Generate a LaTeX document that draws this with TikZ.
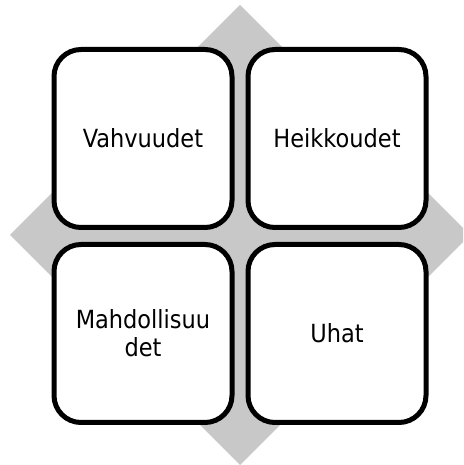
\documentclass[tikz,border=0pt]{standalone}
\usepackage{fontspec}
\setmainfont{DejaVu Sans Condensed}
\usetikzlibrary{positioning}
\definecolor{swotgray}{RGB}{200,200,200}
\tikzset{
  swotbox/.style = {draw, fill=white, line width=5pt, rounded corners=27pt,
    minimum width=178pt, minimum height=178pt, align=center,
    font=\fontsize{25}{28}\selectfont},
}

\begin{document}
\begin{tikzpicture}[x=1pt,y=1pt,node distance=12pt and 11pt]
  \clip (0,0) rectangle (463,465);
  \fill[swotgray] (240,460) -- (10,230) -- (240,0) -- (470,230) -- cycle;

  \node[swotbox] (vahv) at (143,326.5) {Vahvuudet};
  \node[swotbox, right=of vahv] (heik) {Heikkoudet};
  \node[swotbox, below=of vahv] (mahd) {Mahdollisuu\\det};
  \node[swotbox, below=of heik] (uhat) {Uhat};
\end{tikzpicture}
\end{document}
